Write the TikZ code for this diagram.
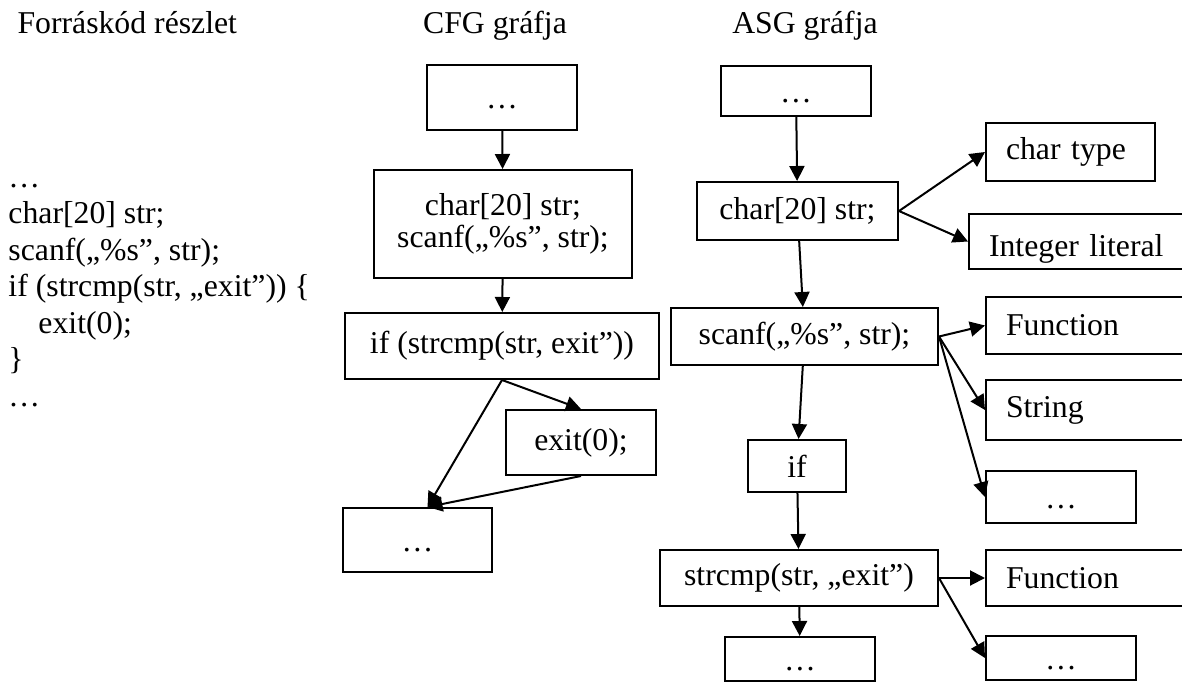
\documentclass[tikz,border=0pt]{standalone}
\usepackage{fontspec}
\setmainfont{Liberation Serif}
\usetikzlibrary{arrows.meta}

\begin{document}
\begin{tikzpicture}[x=0.4pt, y=-0.4pt, >={Triangle[length=6pt,width=6pt]},
  every node/.style={font=\fontsize{12.7}{12.7}\selectfont},
  box/.style={draw, line width=0.8pt, inner sep=0pt, align=center},
  dotbox/.style={box, text height=10pt, text depth=1pt},
  lbox/.style={box, inner xsep=8pt, text width=#1, align=left},
  arr/.style={->, line width=0.8pt}]
  \useasboundingbox (0,0) rectangle (1182,682);

  % headings
  \node[anchor=base west, inner sep=0pt] (hsrc) at (17,33) {Forráskód részlet};
  \node[anchor=base, inner sep=0pt] (hcfg) at (495,33) {CFG gráfja};
  \node[anchor=base, inner sep=0pt] (hasg) at (805,33) {ASG gráfja};

  % source code
  \foreach \ln [count=\i] in {{…}, {char[20] str;}, {scanf(„\%s”, str);}, {if (strcmp(str, „exit”)) \{}, {\hspace{12pt}exit(0);}, {\}}, {…}}
    \node[anchor=base west, inner sep=0pt] (src-\i) at (8, 150.5+36.5*\i) {\ln};

  % CFG
  \node[dotbox, minimum width=60pt, minimum height=26pt] (ctop) at (502,97.5) {…};
  \node[box, minimum width=103.2pt, minimum height=43.2pt] (cdecl) at (503,224) {char[20] str;\\scanf(„\%s”, str);};
  \node[box, minimum width=125.6pt, minimum height=26.4pt] (cif) at (502,346) {if (strcmp(str, exit”))};
  \node[box, minimum width=60pt, minimum height=26pt] (cexit) at (581,442.5) {exit(0);};
  \node[dotbox, minimum width=59.6pt, minimum height=25.6pt] (cend) at (417.5,540) {…};

  \draw[arr] (ctop) -- (cdecl);
  \draw[arr] (cdecl) -- (cif);
  \draw[arr] (cif.south) -- (cexit.north);
  \draw[arr] (cif.south) -- ([xshift=4pt]cend.north);
  \draw[arr] (cexit.south) -- ([xshift=4pt]cend.north);

  % ASG
  \node[dotbox, minimum width=60pt, minimum height=20pt] (atop) at (796,91) {…};
  \node[box, minimum width=80.4pt, minimum height=23.2pt] (adecl) at (797.5,211) {char[20] str;};
  \node[box, minimum width=106.8pt, minimum height=22.8pt] (ascanf) at (804.5,336.5) {scanf(„\%s”, str);};
  \node[box, minimum width=39.2pt, minimum height=20.8pt] (aif) at (797,466) {if};
  \node[box, minimum width=111.2pt, minimum height=22.4pt] (astrcmp) at (799,578) {strcmp(str, „exit”)};
  \node[dotbox, minimum width=60pt, minimum height=17.6pt] (aend) at (800,659) {…};

  \node[lbox=51.6pt, minimum height=23.2pt, anchor=west] (ctype) at (985,152) {char type};
  \node[lbox=76.8pt, minimum height=22pt, text height=12pt, text depth=0pt, anchor=west] (intlit) at (968,241.5) {Integer literal};
  \node[lbox=70pt, minimum height=22.8pt, anchor=west] (fn1) at (985,325.5) {Function};
  \node[lbox=70pt, minimum height=24pt, anchor=west] (strlit) at (985,410) {String};
  \node[dotbox, minimum width=60pt, minimum height=20.8pt, anchor=west] (adots1) at (985,497) {…};
  \node[lbox=70pt, minimum height=22.4pt, anchor=west] (fn2) at (985,578) {Function};
  \node[dotbox, minimum width=60pt, minimum height=17.6pt, anchor=west] (adots2) at (985,658) {…};

  \draw[arr] (atop) -- (adecl);
  \draw[arr] (adecl) -- (ascanf);
  \draw[arr] (ascanf) -- (aif);
  \draw[arr] (aif) -- (astrcmp);
  \draw[arr] (astrcmp) -- (aend);
  \draw[arr] (adecl.east) -- (ctype.west);
  \draw[arr] (adecl.east) -- (intlit.west);
  \draw[arr] (ascanf.east) -- (fn1.west);
  \draw[arr] (ascanf.east) -- (strlit.west);
  \draw[arr] (ascanf.east) -- (adots1.west);
  \draw[arr] (astrcmp.east) -- (fn2.west);
  \draw[arr] (astrcmp.east) -- (adots2.west);
\end{tikzpicture}
\end{document}
